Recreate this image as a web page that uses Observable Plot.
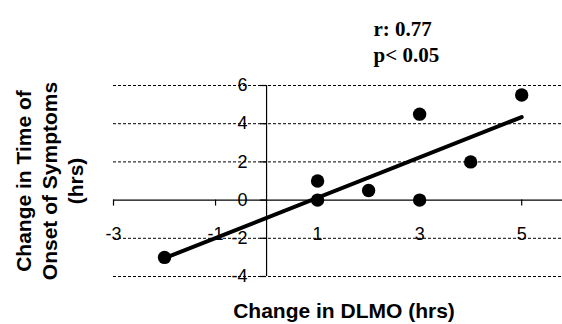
<!DOCTYPE html>
<html>
<head>
<meta charset="utf-8">
<script src="https://cdn.jsdelivr.net/npm/d3@7"></script>
<script src="https://cdn.jsdelivr.net/npm/@observablehq/plot@0.6"></script>
<style>
  html, body { margin: 0; padding: 0; background: #fff; }
  #chart svg { display: block; }
</style>
</head>
<body>
<div id="chart"></div>
<script>
// Data
const dlmoChange = [-2, 1, 1, 2, 3, 3, 4, 5];
const onsetChange = [-3, 1, 0, 0.5, 4.5, 0, 2, 5.5];
const xTicks = [-3, -1, 1, 3, 5];
const yTicks = [-4, -2, 0, 2, 4, 6];
const gridLines = [-4, -2, 2, 4, 6];
const statsText = ["r: 0.77", "p< 0.05"];
const xLabel = "Change in DLMO (hrs)";
const yLabelLines = ["Change in Time of", "Onset of Symptoms", "(hrs)"];

const points = dlmoChange.map((x, i) => ({x, y: onsetChange[i]}));

const sans = "'Liberation Sans', Arial, Helvetica, sans-serif";
const serif = "'Liberation Serif', 'Times New Roman', serif";

const chart = Plot.plot({
  width: 562,
  height: 324,
  marginLeft: 113,
  marginRight: 0,
  marginTop: 85,
  marginBottom: 48,
  style: {fontFamily: sans, fontSize: "18px", color: "black", background: "white", overflow: "visible"},
  x: {domain: [-3, 5.8], axis: null},
  y: {domain: [-4, 6], axis: null},
  marks: [
    // dotted gridlines
    Plot.ruleY(gridLines, {y: d => d, stroke: "black", strokeWidth: 1, strokeDasharray: "3,2"}),
    // axes through origin
    Plot.ruleY([0], {stroke: "black", strokeWidth: 1.2}),
    Plot.ruleX([0], {stroke: "black", strokeWidth: 1.2}),
    // tick marks
    Plot.ruleX(xTicks, {x: d => d, y1: 0, y2: 0, insetBottom: -6, stroke: "black", strokeWidth: 1.2}),
    Plot.ruleY(yTicks, {y: d => d, x1: 0, x2: 0, insetLeft: -6, stroke: "black", strokeWidth: 1.2}),
    // tick labels
    Plot.text(xTicks, {x: d => d, y: 0, text: d => String(d), lineAnchor: "top", dy: 27, fontSize: 18, fill: "black"}),
    Plot.text(yTicks, {x: 0, y: d => d, text: d => String(d), textAnchor: "end", dx: -19, fontSize: 18, fill: "black"}),
    // regression line
    Plot.linearRegressionY(points, {x: "x", y: "y", ci: 0, stroke: "black", strokeWidth: 4, strokeLinecap: "round"}),
    // points
    Plot.dot(points, {x: "x", y: "y", r: 6.7, fill: "black", stroke: "none"}),
    // stats annotation
    Plot.text([statsText.join("\n")], {frameAnchor: "top-left", dx: 260, dy: -68, textAnchor: "start", lineAnchor: "top", lineHeight: 1.24, fontFamily: serif, fontWeight: "bold", fontSize: 21, fill: "black"}),
    // x label
    Plot.text([xLabel], {frameAnchor: "bottom", dx: 6, dy: 35, textAnchor: "middle", lineAnchor: "middle", fontWeight: "bold", fontSize: 21, fill: "black"}),
    // y label
    Plot.text([yLabelLines.join("\n")], {frameAnchor: "left", dx: -65, rotate: -90, textAnchor: "middle", lineAnchor: "middle", lineHeight: 1.24, fontWeight: "bold", fontSize: 21, fill: "black"})
  ]
});

document.getElementById("chart").appendChild(chart);
</script>
</body>
</html>
